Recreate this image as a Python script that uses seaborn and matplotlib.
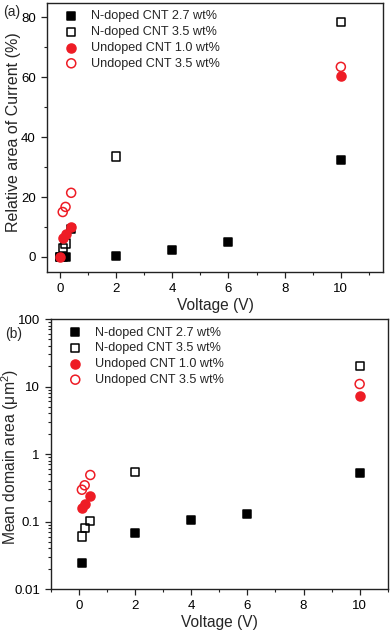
import numpy as np
import pandas as pd
import seaborn as sns
import matplotlib
matplotlib.use('Agg')
import matplotlib.pyplot as plt
from matplotlib.ticker import MultipleLocator, LogLocator, FixedFormatter, FixedLocator, NullFormatter

# Panel (a): relative area of current (%)
a_n27_x = [0, 0.1, 0.2, 0.4, 2, 4, 6, 10]
a_n27_y = [0, 0, 0, 9.5, 0.2, 2.2, 5.1, 32.2]
a_n35_x = [0, 0.1, 0.2, 2, 10]
a_n35_y = [0, 2.9, 4.5, 33.5, 78.3]
a_u10_x = [0, 0.1, 0.2, 0.4, 10]
a_u10_y = [0, 6.2, 7.5, 10.1, 60.5]
a_u35_x = [0.1, 0.2, 0.4, 10]
a_u35_y = [15.0, 16.7, 21.4, 63.4]

# Panel (b): mean domain area (um^2)
b_n27_x = [0.1, 2, 4, 6, 10]
b_n27_y = [0.024, 0.068, 0.105, 0.13, 0.53]
b_n35_x = [0.1, 0.2, 0.4, 2, 10]
b_n35_y = [0.060, 0.079, 0.103, 0.55, 20.1]
b_u10_x = [0.1, 0.2, 0.4, 10]
b_u10_y = [0.158, 0.18, 0.236, 7.15]
b_u35_x = [0.1, 0.2, 0.4, 10]
b_u35_y = [0.296, 0.344, 0.489, 10.9]

labels = ['N-doped CNT 2.7 wt%', 'N-doped CNT 3.5 wt%',
          'Undoped CNT 1.0 wt%', 'Undoped CNT 3.5 wt%']
red = '#ee1c25'

sns.set_style('ticks')
plt.rcParams['font.family'] = ['Liberation Sans', 'DejaVu Sans']
plt.rcParams['mathtext.fontset'] = 'custom'
plt.rcParams['mathtext.rm'] = 'Liberation Sans'

fig = plt.figure(figsize=(3.9, 6.35), dpi=100)
ax1 = fig.add_axes([0.1205, 0.5712, 0.8615, 0.4246])
ax2 = fig.add_axes([0.1308, 0.0724, 0.8633, 0.4252])


def draw(ax, series):
    styles = [('s', 'black', 'black'), ('s', 'none', 'black'),
              ('o', red, red), ('o', 'none', red)]
    for (x, y), lab, (m, fc, ec) in zip(series, labels, styles):
        df = pd.DataFrame({'x': x, 'y': y})
        sns.scatterplot(data=df, x='x', y='y', ax=ax, marker=m, s=34 if m == 's' else 42,
                        facecolor=fc, edgecolor=ec, linewidth=1.1, label=lab, zorder=3)
    ax.legend(loc='upper left', frameon=False, fontsize=9.1, handletextpad=0.6,
              labelspacing=0.3, borderaxespad=0.2, bbox_to_anchor=(0.012, 1.0))


draw(ax1, [(a_n27_x, a_n27_y), (a_n35_x, a_n35_y), (a_u10_x, a_u10_y), (a_u35_x, a_u35_y)])
draw(ax2, [(b_n27_x, b_n27_y), (b_n35_x, b_n35_y), (b_u10_x, b_u10_y), (b_u35_x, b_u35_y)])

ax1.set_xlim(-0.46, 11.5)
ax1.set_ylim(-5.1, 84.8)
ax1.xaxis.set_major_locator(MultipleLocator(2))
ax1.xaxis.set_minor_locator(MultipleLocator(1))
ax1.yaxis.set_major_locator(MultipleLocator(20))
ax1.yaxis.set_minor_locator(MultipleLocator(10))
ax1.set_xlabel('Voltage (V)', fontsize=11.2, labelpad=2)
ax1.set_ylabel('Relative area of Current (%)', fontsize=11.5)
ax1.yaxis.set_label_coords(-0.077, 0.52)

ax2.set_yscale('log')
ax2.set_xlim(-1.0, 11.0)
ax2.set_ylim(0.01, 100)
ax2.xaxis.set_major_locator(MultipleLocator(2))
ax2.xaxis.set_minor_locator(MultipleLocator(1))
ax2.yaxis.set_major_locator(FixedLocator([0.01, 0.1, 1, 10, 100]))
ax2.yaxis.set_major_formatter(FixedFormatter(['0.01', '0.1', '1', '10', '100']))
ax2.yaxis.set_minor_locator(LogLocator(base=10, subs=np.arange(2, 10)))
ax2.yaxis.set_minor_formatter(NullFormatter())
ax2.set_xlabel('Voltage (V)', fontsize=11.2, labelpad=2)
ax2.set_ylabel('Mean domain area (μm$^2$)', fontsize=11.3)
ax2.yaxis.set_label_coords(-0.088, 0.49)

for ax in (ax1, ax2):
    for sp in ax.spines.values():
        sp.set_visible(True)
        sp.set_color('#222222')
        sp.set_linewidth(1.0)
    ax.tick_params(which='major', direction='out', length=4.5, width=0.9,
                   labelsize=9.5, colors='#222222', labelcolor='black')
    ax.tick_params(which='minor', direction='out', length=2.5, width=0.8, colors='#222222')
    ax.tick_params(top=False, right=False, which='both')

fig.text(0.008, 0.975, '(a)', fontsize=10)
fig.text(0.013, 0.468, '(b)', fontsize=10)

fig.savefig('out.png', dpi=100)
